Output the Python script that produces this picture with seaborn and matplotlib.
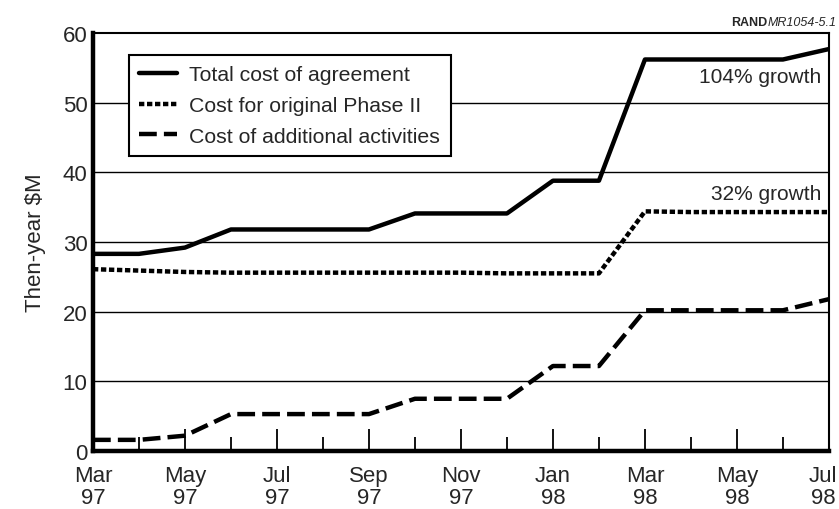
import pandas as pd
import numpy as np
import matplotlib.pyplot as plt
import matplotlib.transforms as mtransforms
import seaborn as sns

sns.set_style('white')
plt.rcParams['font.family'] = ['Liberation Sans', 'DejaVu Sans']

# months Mar 97 .. Jul 98
months = ['Mar 97', 'Apr 97', 'May 97', 'Jun 97', 'Jul 97', 'Aug 97', 'Sep 97',
          'Oct 97', 'Nov 97', 'Dec 97', 'Jan 98', 'Feb 98', 'Mar 98', 'Apr 98',
          'May 98', 'Jun 98', 'Jul 98']
total_cost = [28.3, 28.3, 29.2, 31.8, 31.8, 31.8, 31.8, 34.1, 34.1, 34.1,
              38.8, 38.8, 56.2, 56.2, 56.2, 56.2, 57.7]
original_phase2 = [26.1, 25.9, 25.7, 25.6, 25.6, 25.6, 25.6, 25.6, 25.6, 25.5,
                   25.5, 25.5, 34.4, 34.3, 34.3, 34.3, 34.3]
additional = [1.6, 1.6, 2.2, 5.3, 5.3, 5.3, 5.3, 7.5, 7.5, 7.5,
              12.2, 12.2, 20.2, 20.2, 20.2, 20.2, 21.8]
series_names = ['Total cost of agreement', 'Cost for original Phase II',
                'Cost of additional activities']
tick_labels = ['Mar\n97', 'May\n97', 'Jul\n97', 'Sep\n97', 'Nov\n97',
               'Jan\n98', 'Mar\n98', 'May\n98', 'Jul\n98']

df = pd.DataFrame({
    'month': list(range(len(months))) * 3,
    'cost': total_cost + original_phase2 + additional,
    'series': np.repeat(series_names, len(months)),
})

fig = plt.figure(figsize=(8.39, 5.10), dpi=100)
ax = fig.add_axes([0.1108, 0.1137, 0.8772, 0.8196])

for y in range(10, 60, 10):
    ax.axhline(y, color='black', lw=1.0, zorder=1)

sns.lineplot(data=df, x='month', y='cost', hue='series', style='series',
             palette=['black'] * 3,
             dashes={series_names[0]: '', series_names[1]: (1.2, 0.6),
                     series_names[2]: (4, 1.6)},
             linewidth=3.2, ax=ax, zorder=3)

ax.set_xlim(0, 16)
ax.set_ylim(0, 60)
ax.set_yticks(range(0, 61, 10))
ax.tick_params(axis='y', length=0, labelsize=16, pad=4)
ax.set_xticks(range(0, 17, 2))
ax.set_xticklabels(tick_labels, fontsize=16, linespacing=1.05)
ax.set_xticks(range(1, 17, 2), minor=True)
ax.tick_params(axis='x', which='both', bottom=True)
ax.tick_params(axis='x', which='major', direction='in', length=16, width=1.3,
               pad=10, color='black')
ax.tick_params(axis='x', which='minor', direction='in', length=10, width=1.3,
               color='black')
# last label sits against the figure edge
last = ax.get_xticklabels()[-1]
last.set_transform(last.get_transform() +
                   mtransforms.ScaledTranslation(-6 / 100, 0, fig.dpi_scale_trans))
ax.set_xlabel('')
ax.set_ylabel('Then-year $M', fontsize=16, labelpad=12)

for side in ['top', 'right']:
    ax.spines[side].set_linewidth(1.5)
for side in ['left', 'bottom']:
    ax.spines[side].set_linewidth(3.2)
for s in ax.spines.values():
    s.set_color('black')
    s.set_zorder(4)

leg = ax.legend(loc='upper left', bbox_to_anchor=(0.040, 0.963), fontsize=15.3,
                frameon=True, fancybox=False, edgecolor='black',
                handlelength=1.75, handletextpad=0.6, borderpad=0.5,
                labelspacing=0.55, borderaxespad=0.3, framealpha=1)
leg.get_frame().set_linewidth(1.5)
leg.set_zorder(5)

ax.text(0.99, 0.897, '104% growth', transform=ax.transAxes, ha='right',
        va='center', fontsize=15)
ax.text(0.99, 0.615, '32% growth', transform=ax.transAxes, ha='right',
        va='center', fontsize=15)

fig.text(0.915, 0.955, 'RAND', fontsize=9, fontweight='bold', ha='right',
         va='center')
fig.text(0.915, 0.955, 'MR1054-5.1', fontsize=9, style='italic', ha='left',
         va='center')

fig.savefig('out.png', dpi=100)
